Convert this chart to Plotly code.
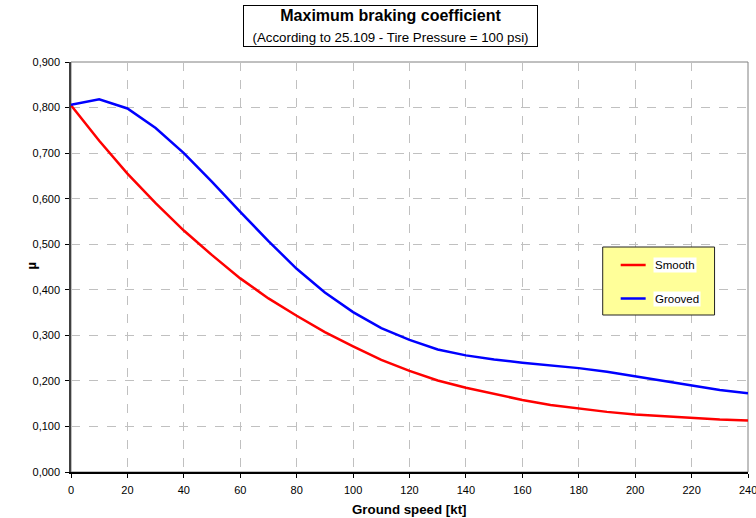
import plotly.graph_objects as go

speed = [0, 10, 20, 30, 40, 50, 60, 70, 80, 90, 100, 110, 120, 130, 140, 150, 160, 170, 180, 190, 200, 210, 220, 230, 240]
smooth = [0.805, 0.727, 0.655, 0.590, 0.530, 0.476, 0.425, 0.381, 0.343, 0.307, 0.276, 0.246, 0.222, 0.201, 0.185,
          0.171, 0.158, 0.147, 0.139, 0.132, 0.126, 0.122, 0.119, 0.115, 0.113]
grooved = [0.806, 0.818, 0.798, 0.755, 0.700, 0.637, 0.571, 0.507, 0.446, 0.394, 0.351, 0.316, 0.290, 0.269, 0.256,
           0.247, 0.240, 0.234, 0.228, 0.220, 0.210, 0.201, 0.191, 0.180, 0.173]
series_names = ["Smooth", "Grooved"]
x_ticks = list(range(0, 241, 20))
y_ticks = [0.0, 0.1, 0.2, 0.3, 0.4, 0.5, 0.6, 0.7, 0.8, 0.9]
x_title = "Ground speed [kt]"
y_title = "µ"

W, H = 756, 518
L, R, T, B = 70.5, 7.5, 62, 46
pw, ph = W - L - R, H - T - B

def px(xp):
    return (xp - L) / pw

def py(yp):
    return (H - B - yp) / ph

FONT = "Liberation Sans, Arial, sans-serif"

fig = go.Figure()
fig.add_trace(go.Scatter(x=speed, y=smooth, name=series_names[0], mode="lines",
                         line=dict(color="#FF0000", width=2.5), showlegend=False))
fig.add_trace(go.Scatter(x=speed, y=grooved, name=series_names[1], mode="lines",
                         line=dict(color="#0000FF", width=2.5), showlegend=False))

shapes = [
    dict(type="rect", xref="paper", yref="paper", x0=0, x1=1, y0=0, y1=1,
         line=dict(color="#808080", width=1), layer="below"),
    # legend box
    dict(type="rect", xref="paper", yref="paper", x0=px(603), x1=px(715), y0=py(315), y1=py(247),
         line=dict(color="#222222", width=1), fillcolor="#FFFF99", layer="above"),
    dict(type="line", xref="paper", yref="paper", x0=px(621), x1=px(646), y0=py(265), y1=py(265),
         line=dict(color="#FF0000", width=2.5)),
    dict(type="line", xref="paper", yref="paper", x0=px(621), x1=px(646), y0=py(298.5), y1=py(298.5),
         line=dict(color="#0000FF", width=2.5)),
]

shown_x_ticks = x_ticks[:-1]

annotations = [
    dict(text="<b>Maximum braking coefficient</b><br><span style='font-size:13.3px'>(According to 25.109 - Tire Pressure = 100 psi)</span>",
         xref="paper", yref="paper", x=px(390.5), y=py(26), xanchor="center", yanchor="middle",
         showarrow=False, font=dict(family=FONT, size=16, color="black"),
         bordercolor="black", borderwidth=1, width=291, height=38, bgcolor="white", borderpad=1),
    dict(text=series_names[0], xref="paper", yref="paper", x=px(653), y=py(265), xanchor="left", yanchor="middle",
         showarrow=False, font=dict(family=FONT, size=11.5, color="black"), bgcolor="white", borderpad=1),
    dict(text=series_names[1], xref="paper", yref="paper", x=px(653), y=py(298.5), xanchor="left", yanchor="middle",
         showarrow=False, font=dict(family=FONT, size=11.5, color="black"), bgcolor="white", borderpad=1),
    dict(text=str(x_ticks[-1]), xref="x", yref="paper", x=x_ticks[-1], y=py(490), xanchor="center", yanchor="middle",
         showarrow=False, font=dict(family=FONT, size=11, color="black")),
    dict(text="<b>" + x_title + "</b>", xref="paper", yref="paper", x=px(409), y=py(509),
         xanchor="center", yanchor="middle", showarrow=False, font=dict(family=FONT, size=13.3, color="black")),
    dict(text="<b>" + y_title + "</b>", xref="paper", yref="paper", x=px(30), y=py(266),
         xanchor="center", yanchor="middle", textangle=-90, showarrow=False,
         font=dict(family=FONT, size=13, color="black")),
]

fig.update_layout(
    width=W, height=H,
    margin=dict(l=L, r=R, t=T, b=B, pad=0),
    paper_bgcolor="white", plot_bgcolor="white",
    separators=",.",
    font=dict(family=FONT, size=11, color="black"),
    shapes=shapes, annotations=annotations,
    xaxis=dict(range=[0, 240], tickvals=x_ticks, ticktext=[str(v) for v in shown_x_ticks] + [""],
               ticks="outside", ticklen=4, tickcolor="black", ticklabelstandoff=3, automargin=False,
               showline=True, linecolor="black", linewidth=1.5,
               showgrid=True, gridcolor="#C0C0C0", griddash="dash", gridwidth=1, zeroline=False,
               tickfont=dict(family=FONT, size=11)),
    yaxis=dict(range=[0, 0.9], tickvals=y_ticks, tickformat=".3f", ticks="outside", ticklen=4, tickcolor="black",
               ticklabelstandoff=3, automargin=False,
               showline=True, linecolor="#404040", linewidth=1.5,
               showgrid=True, gridcolor="#C0C0C0", griddash="dash", gridwidth=1, zeroline=False,
               tickfont=dict(family=FONT, size=11)),
)

fig.write_html("out.html")
